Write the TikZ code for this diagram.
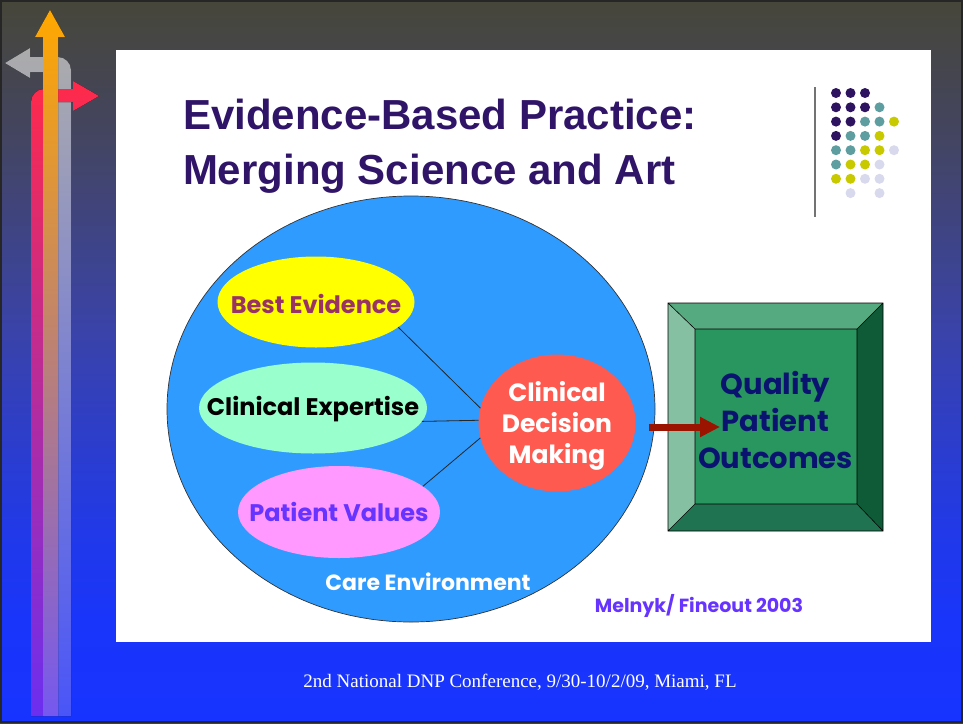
\documentclass[tikz,border=0pt]{standalone}
\usepackage{fontspec}
\setmainfont{Liberation Serif}
\newfontfamily\titlefont{Liberation Sans}
\newfontfamily\gothic{Poppins}
\usetikzlibrary{shapes.geometric,arrows.meta}

% slide background colours, top to bottom
\definecolor{bgA}{HTML}{47463A}
\definecolor{bgB}{HTML}{434562}
\definecolor{bgC}{HTML}{3A43A8}
\definecolor{bgD}{HTML}{2139E8}
\definecolor{bgE}{HTML}{1935FA}
\definecolor{bgF}{HTML}{1733FF}
\pgfdeclareverticalshading{slidebg}{100bp}{%
  color(0bp)=(bgF); color(25bp)=(bgF); color(32.1bp)=(bgE);
  color(38.3bp)=(bgD); color(52.2bp)=(bgC); color(65.3bp)=(bgB);
  color(75bp)=(bgA); color(100bp)=(bgA)}

\definecolor{titlepurple}{HTML}{2F1468}
\definecolor{envblue}{HTML}{2F9BFF}
\definecolor{bestfill}{HTML}{FFFF00}
\definecolor{besttext}{HTML}{993366}
\definecolor{expfill}{HTML}{99FFCC}
\definecolor{valfill}{HTML}{FF99FF}
\definecolor{valtext}{HTML}{6633FF}
\definecolor{cdmfill}{HTML}{FF5A50}
\definecolor{arrowred}{HTML}{9B1400}
\definecolor{navytext}{HTML}{0A1470}
\definecolor{bevTop}{HTML}{56AA80}
\definecolor{bevRight}{HTML}{0F5A37}
\definecolor{bevBottom}{HTML}{1F7350}
\definecolor{bevLeft}{HTML}{86C0A3}
\definecolor{bevFace}{HTML}{29955F}
\definecolor{dP}{HTML}{2E1460}
\definecolor{dT}{HTML}{5F9EA0}
\definecolor{dY}{HTML}{C9C900}
\definecolor{dL}{HTML}{D9D9EE}

\begin{document}
\begin{tikzpicture}[x=1pt,y=-1pt,
  every node/.style={inner sep=0pt,outer sep=0pt},
  oval/.style={ellipse,draw=none},
  ovaltext/.style={font=\gothic\bfseries\fontsize{24}{29}\selectfont},
  link/.style={draw=black!85,line width=0.8pt},
  bevel/.style={draw=black,line width=0.6pt},
  gfont/.style={font=\gothic\bfseries\fontsize{#1}{#1}\selectfont},
  titletext/.style={anchor=base west,font=\titlefont\bfseries\fontsize{42}{50}\selectfont,text=titlepurple}]

\useasboundingbox (0,0) rectangle (963,723);

% background and frame
\fill[shading=slidebg] (0,0) rectangle (963,723);
\draw[line width=2pt,black!85] (1,1) rectangle (962,722);

% the three arrows in the left margin
\fill[top color=gray!65,middle color={rgb,255:red,140;green,141;blue,203},bottom color={rgb,255:red,74;green,85;blue,248}]
  (58,716) -- (58,72) -- (30,72) -- (30,78) -- (5,63) -- (30,48) -- (30,57) -- (58,57)
  .. controls (65,57) and (71,63) .. (71,70) -- (71,716) -- cycle;
\fill[top color={rgb,255:red,255;green,42;blue,74},middle color={rgb,255:red,218;green,44;blue,168},bottom color={rgb,255:red,107;green,46;blue,240}]
  (31,716) -- (31,102) .. controls (31,95) and (37,89) .. (44,89) -- (73,89) -- (73,81)
  -- (99,96) -- (73,111) -- (73,102) -- (43,102) -- (43,716) -- cycle;
\fill[top color={rgb,255:red,255;green,168;blue,0},middle color={rgb,255:red,210;green,141;blue,178},bottom color={rgb,255:red,117;green,88;blue,240}]
  (43,716) -- (43,37) -- (35,37) -- (50,10) -- (65,37) -- (58,37) -- (58,716) -- cycle;

% white slide panel
\fill[white] (116,50) rectangle (931,642);

% title
\node[titletext] (title1) at (183,129) {Evidence-Based Practice:};
\node[titletext] (title2) at (183,184) {Merging Science and Art};

% dot grid ornament
\draw[line width=1.5pt,black!55] (815,87) -- (815,217);
\foreach \c/\r/\col in {0/0/dP,1/0/dP,2/0/dP,
    0/1/dP,1/1/dP,2/1/dP,3/1/dT,
    0/2/dP,1/2/dP,2/2/dT,3/2/dT,4/2/dY,
    0/3/dP,1/3/dT,2/3/dT,3/3/dY,
    0/4/dT,1/4/dT,2/4/dY,3/4/dY,4/4/dL,
    0/5/dT,1/5/dY,2/5/dY,3/5/dL,
    0/6/dY,1/6/dY,2/6/dL,3/6/dL,
    1/7/dL,3/7/dL}
  \fill[\col] (836+14.5*\c,93+14.3*\r) circle[radius=5pt];

% care environment
\node[ellipse,draw=black!80,line width=0.7pt,fill=envblue,minimum width=488pt,minimum height=426pt] (env) at (411,409) {};
\node[gfont=22,text=white] (envlabel) at (428,582) {Care Environment};

% the three inputs and the decision
\node[oval,fill=bestfill,minimum width=197pt,minimum height=91pt,
      label={[ovaltext,text=besttext,yshift=-2pt]center:Best Evidence}] (best) at (316,302) {};
\node[oval,fill=expfill,minimum width=228pt,minimum height=91pt,
      label={[ovaltext,text=black,yshift=-1pt]center:Clinical Expertise}] (exp) at (313,408) {};
\node[oval,fill=valfill,minimum width=202pt,minimum height=92pt,
      label={[ovaltext,text=valtext]center:Patient Values}] (val) at (339,512) {};
\node[ellipse,fill=cdmfill,minimum width=157pt,minimum height=137pt,
      label={[align=center,text=white,yshift=-3pt,font=\gothic\bfseries\fontsize{25}{31}\selectfont]center:Clinical\\Decision\\Making}] (cdm) at (557,423) {};

\draw[link] (best.-17) -- (cdm.169);
\draw[link] (exp.-7) -- (cdm.178);
\draw[link] (val.17) -- (cdm.191);

% bevelled outcome box
\coordinate (oNW) at (668,303); \coordinate (oNE) at (883,303);
\coordinate (oSE) at (883,531); \coordinate (oSW) at (668,531);
\coordinate (iNW) at (695,329); \coordinate (iNE) at (857,329);
\coordinate (iSE) at (857,504); \coordinate (iSW) at (695,504);
\fill[bevTop] (oNW) -- (oNE) -- (iNE) -- (iNW) -- cycle;
\fill[bevRight] (oNE) -- (oSE) -- (iSE) -- (iNE) -- cycle;
\fill[bevBottom] (oSW) -- (oSE) -- (iSE) -- (iSW) -- cycle;
\fill[bevLeft] (oNW) -- (oSW) -- (iSW) -- (iNW) -- cycle;
\fill[bevFace] (iNW) rectangle (iSE);
\draw[bevel] (oNW) rectangle (oSE) (iNW) rectangle (iSE)
  (oNW) -- (iNW) (oNE) -- (iNE) (oSE) -- (iSE) (oSW) -- (iSW);
\node[minimum width=215pt,minimum height=228pt,align=center,text=navytext,
      font=\gothic\bfseries\fontsize{29}{37}\selectfont] (qpo) at (775.5,420) {Quality\\Patient\\Outcomes};

\draw[line width=7pt,arrowred,-{Triangle[length=20pt,width=19pt]}]
  ([shift={(13,4)}]cdm.east) -- ([shift={(52,7)}]qpo.west);

% citation and footer
\node[gfont=19,text=valtext] (cite) at (699,606) {Melnyk/ Fineout 2003};
\node[font=\fontsize{19}{21}\selectfont,text=white] (footer) at (520,682) {2nd National DNP Conference, 9/30-10/2/09, Miami, FL};
\end{tikzpicture}
\end{document}
